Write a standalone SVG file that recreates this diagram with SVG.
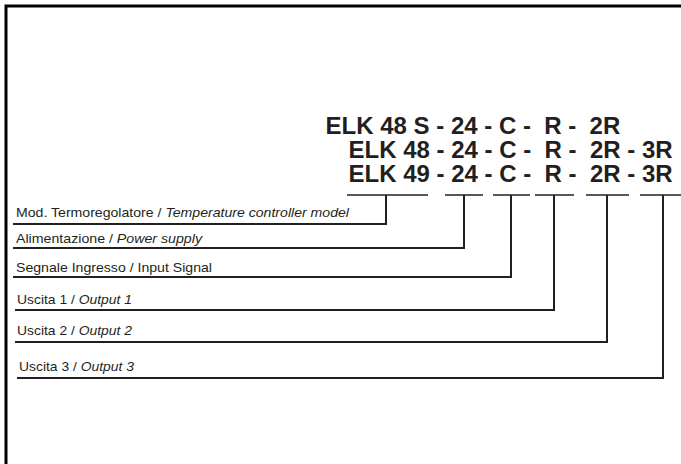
<svg xmlns="http://www.w3.org/2000/svg" width="681" height="464" viewBox="0 0 681 464">
<style>
.code{font-family:"Liberation Sans",Arial,sans-serif;font-weight:bold;font-size:24px;fill:#231f20}
.lbl{font-family:"Liberation Sans",Arial,sans-serif;font-size:13.5px;fill:#231f20}
.it{font-style:italic}
.ln{fill:none;stroke:#231f20;stroke-width:2}
.bar{fill:none;stroke:#231f20;stroke-width:1.6}
</style>
<rect width="681" height="464" fill="#fff"/>
<path d="M6,464 V6 H681" fill="none" stroke="#000" stroke-width="3"/>
<g id="codes">
<text class="code" y="134"><tspan x="325.5">ELK 48 S</tspan> <tspan x="436.2">-</tspan> <tspan x="450.9">24</tspan> <tspan x="484.2">-</tspan> <tspan x="498.9">C</tspan> <tspan x="522.9">-</tspan> <tspan x="544.2">R</tspan> <tspan x="568.2">-</tspan> <tspan x="589.6">2R</tspan></text>
<text class="code" y="158"><tspan x="348.5">ELK 48</tspan> <tspan x="436.5">-</tspan> <tspan x="451.2">24</tspan> <tspan x="484.6">-</tspan> <tspan x="499.2">C</tspan> <tspan x="523.2">-</tspan> <tspan x="544.6">R</tspan> <tspan x="568.6">-</tspan> <tspan x="589.9">2R</tspan> <tspan x="627.3">-</tspan> <tspan x="641.9">3R</tspan></text>
<text class="code" y="182"><tspan x="348.5">ELK 49</tspan> <tspan x="436.5">-</tspan> <tspan x="451.2">24</tspan> <tspan x="484.6">-</tspan> <tspan x="499.2">C</tspan> <tspan x="523.2">-</tspan> <tspan x="544.6">R</tspan> <tspan x="568.6">-</tspan> <tspan x="589.9">2R</tspan> <tspan x="627.3">-</tspan> <tspan x="641.9">3R</tspan></text>
</g>
<g id="n1"><text class="lbl" x="16" y="217" textLength="333" lengthAdjust="spacingAndGlyphs">Mod. Termoregolatore / <tspan class="it">Temperature controller model</tspan></text></g>
<g id="n2"><text class="lbl" x="16" y="243" textLength="186" lengthAdjust="spacingAndGlyphs">Alimentazione / <tspan class="it">Power supply</tspan></text></g>
<g id="n3"><text class="lbl" x="16" y="272" textLength="196" lengthAdjust="spacingAndGlyphs">Segnale Ingresso / Input Signal</text></g>
<g id="n4"><text class="lbl" x="17" y="304" textLength="115" lengthAdjust="spacingAndGlyphs">Uscita 1 / <tspan class="it">Output 1</tspan></text></g>
<g id="n5"><text class="lbl" x="17" y="335" textLength="115" lengthAdjust="spacingAndGlyphs">Uscita 2 / <tspan class="it">Output 2</tspan></text></g>
<g id="n6"><text class="lbl" x="19" y="371" textLength="115" lengthAdjust="spacingAndGlyphs">Uscita 3 / <tspan class="it">Output 3</tspan></text></g>
<g id="connectors">
<path class="bar" d="M347,195 H428 M445,195 H483 M493,195 H530 M535,195 H574 M586,195 H629 M640,195 H681"/>
<path class="ln" d="M13,224 H386 V195"/>
<path class="ln" d="M13,248 H464 V195"/>
<path class="ln" d="M13,277 H511 V195"/>
<path class="ln" d="M15,310 H554 V195"/>
<path class="ln" d="M15,342 H607 V195"/>
<path class="ln" d="M17,378 H663 V195"/>
</g>
</svg>
